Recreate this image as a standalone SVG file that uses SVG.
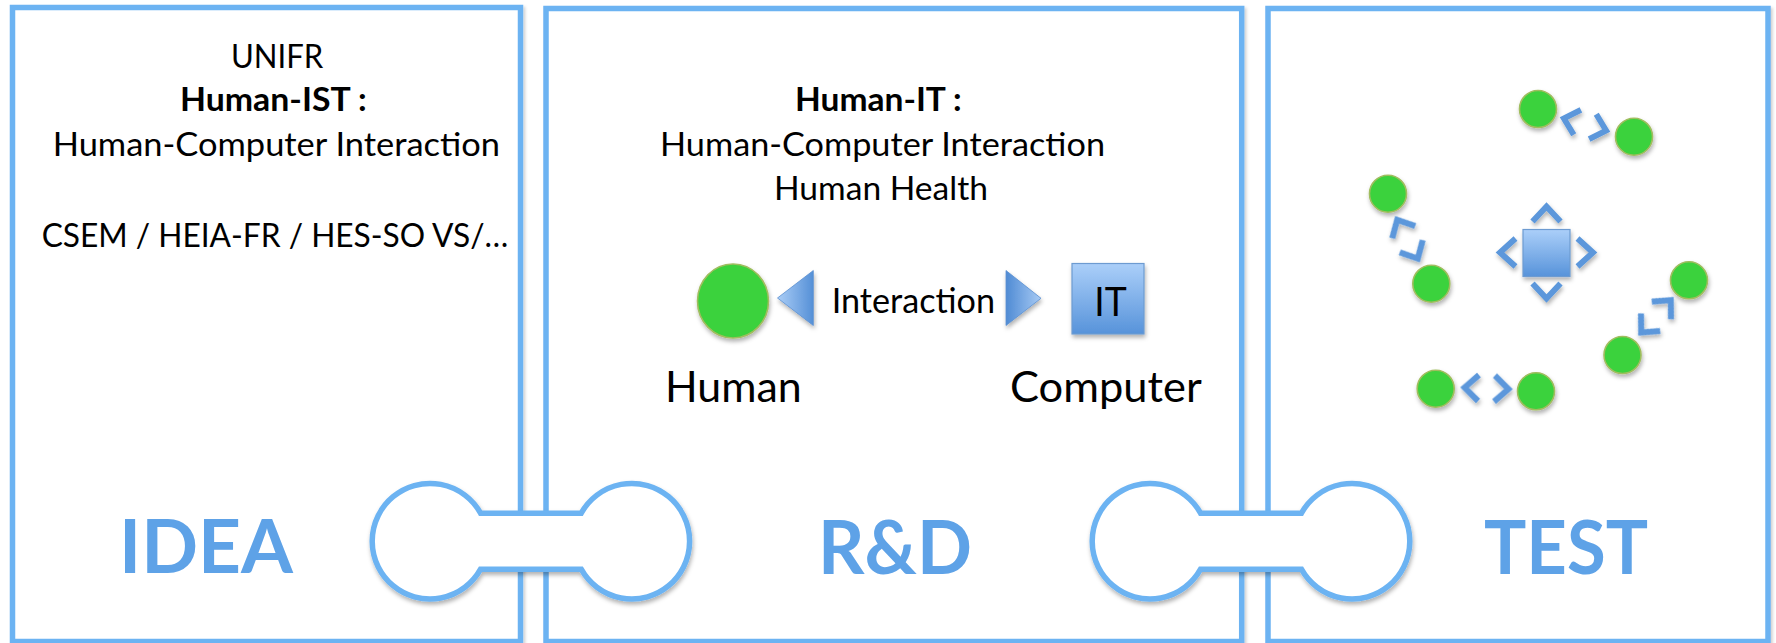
<svg xmlns="http://www.w3.org/2000/svg" width="1776" height="643" viewBox="0 0 1776 643">
  <defs>
    <style>
      .panel { fill: #ffffff; stroke: #6cb3f2; stroke-width: 5.5; }
      .dumb { fill: #ffffff; stroke: #6cb3f2; stroke-width: 5.5; }
      .t { font-family: Lato, "Liberation Sans", Arial, sans-serif; fill: #000000; }
      .b { font-weight: bold; }
      .big { font-family: Lato, "Liberation Sans", Arial, sans-serif; font-weight: bold; font-size: 75px; fill: #5ea2e7; }
      .dot { fill: #3ad23c; stroke: #a0bd5e; stroke-width: 1.6; }
      .chev { fill: none; stroke: #5b97db; stroke-width: 5.8; stroke-linejoin: miter; stroke-miterlimit: 10; }
    </style>
    <filter id="sh" x="-20%" y="-20%" width="140%" height="150%">
      <feDropShadow dx="1" dy="3" stdDeviation="2" flood-color="#000000" flood-opacity="0.3"/>
    </filter>
    <filter id="psh" x="-5%" y="-5%" width="110%" height="110%">
      <feDropShadow dx="2" dy="2" stdDeviation="1.5" flood-color="#000000" flood-opacity="0.18"/>
    </filter>
    <linearGradient id="gSq" x1="0" y1="0" x2="0" y2="1">
      <stop offset="0" stop-color="#abcff9"/>
      <stop offset="1" stop-color="#5793da"/>
    </linearGradient>
    <linearGradient id="gTriL" x1="0" y1="0" x2="1" y2="0">
      <stop offset="0" stop-color="#aacdf6"/>
      <stop offset="1" stop-color="#5590d7"/>
    </linearGradient>
    <linearGradient id="gTriR" x1="0" y1="0" x2="1" y2="0">
      <stop offset="0" stop-color="#4f8bd4"/>
      <stop offset="1" stop-color="#a7caf4"/>
    </linearGradient>
    <g id="pairChev">
      <path class="chev" d="M -8,-13 L -22,0 L -8,13"/>
      <path class="chev" d="M 8,-13 L 22,0 L 8,13"/>
    </g>
  </defs>

  <rect width="1776" height="643" fill="#ffffff"/>

  <!-- IDEA panel -->
  <g id="panel-idea">
    <rect class="panel" filter="url(#psh)" x="12.5" y="7.5" width="508" height="634"/>
    <text class="t" font-size="33" x="231" y="68.3" textLength="92.3" lengthAdjust="spacingAndGlyphs">UNIFR</text>
    <text class="t b" font-size="33" x="180" y="111" textLength="186.7" lengthAdjust="spacingAndGlyphs">Human-IST :</text>
    <text class="t" font-size="33" x="52.7" y="156" textLength="447.3" lengthAdjust="spacingAndGlyphs">Human-Computer Interaction</text>
    <text class="t" font-size="33" x="41.7" y="246.7" textLength="466.6" lengthAdjust="spacingAndGlyphs">CSEM / HEIA-FR / HES-SO VS/…</text>
    <text class="big" x="119" y="572.7" textLength="174" lengthAdjust="spacingAndGlyphs">IDEA</text>
  </g>

  <!-- R&D panel -->
  <g id="panel-rd">
    <rect class="panel" filter="url(#psh)" x="546" y="8.5" width="695.7" height="633"/>
    <text class="t b" font-size="33" x="795" y="110.5" textLength="166.7" lengthAdjust="spacingAndGlyphs">Human-IT :</text>
    <text class="t" font-size="33" x="660" y="156" textLength="445" lengthAdjust="spacingAndGlyphs">Human-Computer Interaction</text>
    <text class="t" font-size="33" x="774" y="199.5" textLength="214" lengthAdjust="spacingAndGlyphs">Human Health</text>
    <text class="big" x="818" y="574" textLength="154" lengthAdjust="spacingAndGlyphs">R&amp;D</text>
  </g>

  <g id="node-human">
    <ellipse class="dot" filter="url(#sh)" cx="733" cy="301" rx="35.5" ry="37"/>
    <text class="t" font-size="43" x="665" y="402" textLength="136.7" lengthAdjust="spacingAndGlyphs">Human</text>
  </g>

  <g id="node-interaction">
    <polygon filter="url(#sh)" points="777.5,298 813.3,270.5 813.3,325.5" fill="url(#gTriL)" stroke="#5a8fd0" stroke-width="0.8"/>
    <text class="t" font-size="35" x="831.7" y="313.3" textLength="163.3" lengthAdjust="spacingAndGlyphs">Interaction</text>
    <polygon filter="url(#sh)" points="1006,270.5 1041,298.3 1006,325.5" fill="url(#gTriR)" stroke="#5a8fd0" stroke-width="0.8"/>
  </g>

  <g id="node-computer">
    <rect filter="url(#sh)" x="1072" y="263.5" width="72" height="70.5" fill="url(#gSq)" stroke="#6d9bd1" stroke-width="1.2"/>
    <text class="t" font-size="40" x="1094.3" y="316" textLength="32.4" lengthAdjust="spacingAndGlyphs">IT</text>
    <text class="t" font-size="43" x="1010" y="402" textLength="191.7" lengthAdjust="spacingAndGlyphs">Computer</text>
  </g>

  <!-- TEST panel -->
  <g id="panel-test">
    <rect class="panel" filter="url(#psh)" x="1268" y="8.5" width="500" height="633"/>
    <text class="big" x="1484" y="574" textLength="164" lengthAdjust="spacingAndGlyphs">TEST</text>
  </g>

  <g id="test-network">
    <g filter="url(#sh)">
      <circle class="dot" cx="1538" cy="109" r="18.5"/>
      <circle class="dot" cx="1634" cy="136.7" r="18.5"/>
      <circle class="dot" cx="1388" cy="193.7" r="18.5"/>
      <circle class="dot" cx="1431.3" cy="283.7" r="18.5"/>
      <circle class="dot" cx="1689" cy="280.3" r="18.5"/>
      <circle class="dot" cx="1622.5" cy="355" r="18.5"/>
      <circle class="dot" cx="1435.7" cy="388.7" r="18.5"/>
      <circle class="dot" cx="1536" cy="391.3" r="18.5"/>
    </g>
    <g filter="url(#sh)">
      <use href="#pairChev" transform="translate(1585,124.5) rotate(16)"/>
      <use href="#pairChev" transform="translate(1407.5,239.2) rotate(62)"/>
      <use href="#pairChev" transform="translate(1656,316.3) rotate(-47.5)"/>
      <use href="#pairChev" transform="translate(1486.5,388.3) rotate(2)"/>
    </g>
    <g filter="url(#sh)">
      <rect x="1523" y="229.5" width="47" height="47" fill="url(#gSq)" stroke="#6d9bd1" stroke-width="1.2"/>
      <g transform="translate(1546.5,252.5)">
        <path class="chev" d="M -31,-14 L -46.5,0 L -31,14"/>
        <path class="chev" d="M 31,-14 L 46.5,0 L 31,14"/>
        <path class="chev" d="M -14,-31 L 0,-46 L 14,-31"/>
        <path class="chev" d="M -14,31 L 0,46 L 14,31"/>
      </g>
    </g>
  </g>

  <!-- connectors -->
  <g id="connectors">
    <path id="link-idea-rd" class="dumb" filter="url(#sh)" d="M 480.57,513.2 L 581.23,513.2 A 57.8 57.8 0 1 1 581.23,569.2 L 480.57,569.2 A 57.8 57.8 0 1 1 480.57,513.2 Z"/>
    <path id="link-rd-test" class="dumb" filter="url(#sh)" d="M 1200.57,513.2 L 1301.43,513.2 A 57.8 57.8 0 1 1 1301.43,569.2 L 1200.57,569.2 A 57.8 57.8 0 1 1 1200.57,513.2 Z"/>
  </g>
</svg>
